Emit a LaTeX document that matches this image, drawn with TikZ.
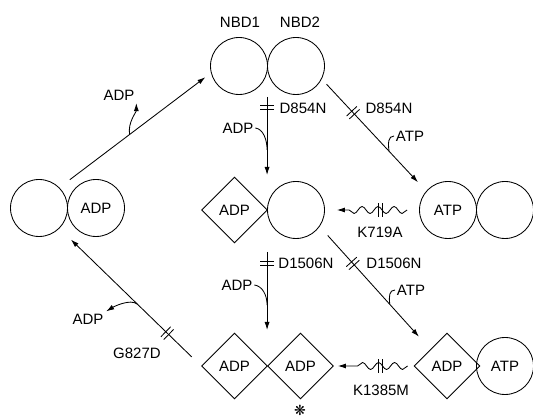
\documentclass[tikz,border=0pt]{standalone}
\usepackage{fontspec}
\setmainfont{Liberation Sans}
\newfontfamily\symfont{DejaVu Sans}
\usetikzlibrary{shapes.geometric,arrows.meta,decorations.pathmorphing,decorations.markings}

\tikzset{
  dom/.style={draw,circle,minimum size=57pt,inner sep=0pt},
  dia/.style={draw,diamond,minimum width=66pt,minimum height=66pt,inner sep=0pt},
  lbl/.style={inner sep=1.5pt},
  cut/.style={postaction={decorate},decoration={markings,mark=at position #1 with
    {\draw[-,shorten <=0pt,shorten >=0pt] (-2,-7) -- (-2,7) (2,-7) -- (2,7);}}},
  wave/.style={decorate,decoration={snake,amplitude=3.5pt,segment length=16pt,post length=12pt}}
}

\begin{document}
\begin{tikzpicture}[>={Latex[length=8pt,width=5pt]},x=1pt,y=-1pt,line width=0.85pt,
  font=\fontsize{15}{18}\selectfont]
   \useasboundingbox (0,0) rectangle (533,419);

   \node[dom] (L1) at (39,208) {};
   \node[dom] (LA) at (96,208) {ADP};
   \node[dom] (N1) at (239,66) {};
   \node[dom] (N2) at (296,66) {};
   \node[dia] (MD) at (234.5,210) {ADP};
   \node[dom] (MC) at (296,210) {};
   \node[dom] (RA) at (448,210) {ATP};
   \node[dom] (RE) at (505,210) {};
   \node[dia] (BD1) at (234.5,366) {ADP};
   \node[dia] (BD2) at (300.5,366) {ADP};
   \node[dia] (BR) at (447,366) {ADP};
   \node[dom] (BC) at (505,366) {ATP};

   \node[lbl] (nbd1) at (240,22) {NBD1};
   \node[lbl] (nbd2) at (300,22) {NBD2};
   \node[lbl] (adpA) at (119,95) {ADP};
   \node[lbl] (d854a) at (303,108) {D854N};
   \node[lbl] (adpB) at (238,128) {ADP};
   \node[lbl] (d854b) at (389,108) {D854N};
   \node[lbl] (atpA) at (410,136) {ATP};
   \node[lbl] (k719) at (380,232) {K719A};
   \node[lbl] (d1506a) at (306,263) {D1506N};
   \node[lbl] (adpC) at (237,285) {ADP};
   \node[lbl] (d1506b) at (394,263) {D1506N};
   \node[lbl] (atpB) at (411,290) {ATP};
   \node[lbl] (adpD) at (88,319) {ADP};
   \node[lbl] (g827) at (137,353) {G827D};
   \node[lbl] (k1385) at (381,390) {K1385M};
   \node[inner sep=0pt] (star) at (300,410) {\symfont\fontsize{14}{14}\selectfont ❋};

   \draw [->,shorten <=13pt,shorten >=7pt] (L1.45) -- coordinate[pos=0.463] (b1) (N1.194) ;
   \draw [->,shorten >=1pt] (b1) .. controls +(-2,-12) and +(0,10) .. (adpA.south east) ;

   \draw [->,shorten <=31pt,shorten >=35pt,cut=0.285] (N2.west) -- coordinate[pos=0.583] (b2) (MC.west) ;
   \draw (adpB.east) .. controls +(8,1) and +(0,-10) .. (b2) ;

   \draw [->,shorten <=7pt,shorten >=12pt,cut=0.30] (N2.-27) -- coordinate[pos=0.644] (b3) (RA.139) ;
   \draw (atpA.west) .. controls +(-6,0) and +(-1,-8) .. (b3) ;

   \draw [->,wave] ([xshift=-12pt]RA.west) -- ([xshift=12pt]MC.east) ;
   \path [cut=0.415] (RA.west) -- (MC.east) ;

   \draw [->,shorten <=42pt,shorten >=36pt,cut=0.34] (MC.west) -- coordinate[pos=0.609] (b5) (BD2.west) ;
   \draw (adpC.east) .. controls +(8,1) and +(0,-10) .. (b5) ;

   \draw [->,shorten <=12pt,shorten >=17pt,cut=0.30] (MC.-35) -- coordinate[pos=0.634] (b6) (BR.north west) ;
   \draw (atpB.west) .. controls +(-6,0) and +(-1,-8) .. (b6) ;

   \draw [->,wave] ([xshift=-6pt]BR.west) -- ([xshift=4pt]BD2.east) ;
   \path [cut=0.42] (BR.west) -- (BD2.east) ;

   \draw [->,shorten <=13pt,shorten >=16pt,cut=0.239] (BD1.west) -- coordinate[pos=0.449] (b8) (L1.-45) ;
   \draw [->,shorten >=1pt] (b8) .. controls +(-7,-6) and +(8,-5) .. (adpD.north east) ;
\end{tikzpicture}
\end{document}
